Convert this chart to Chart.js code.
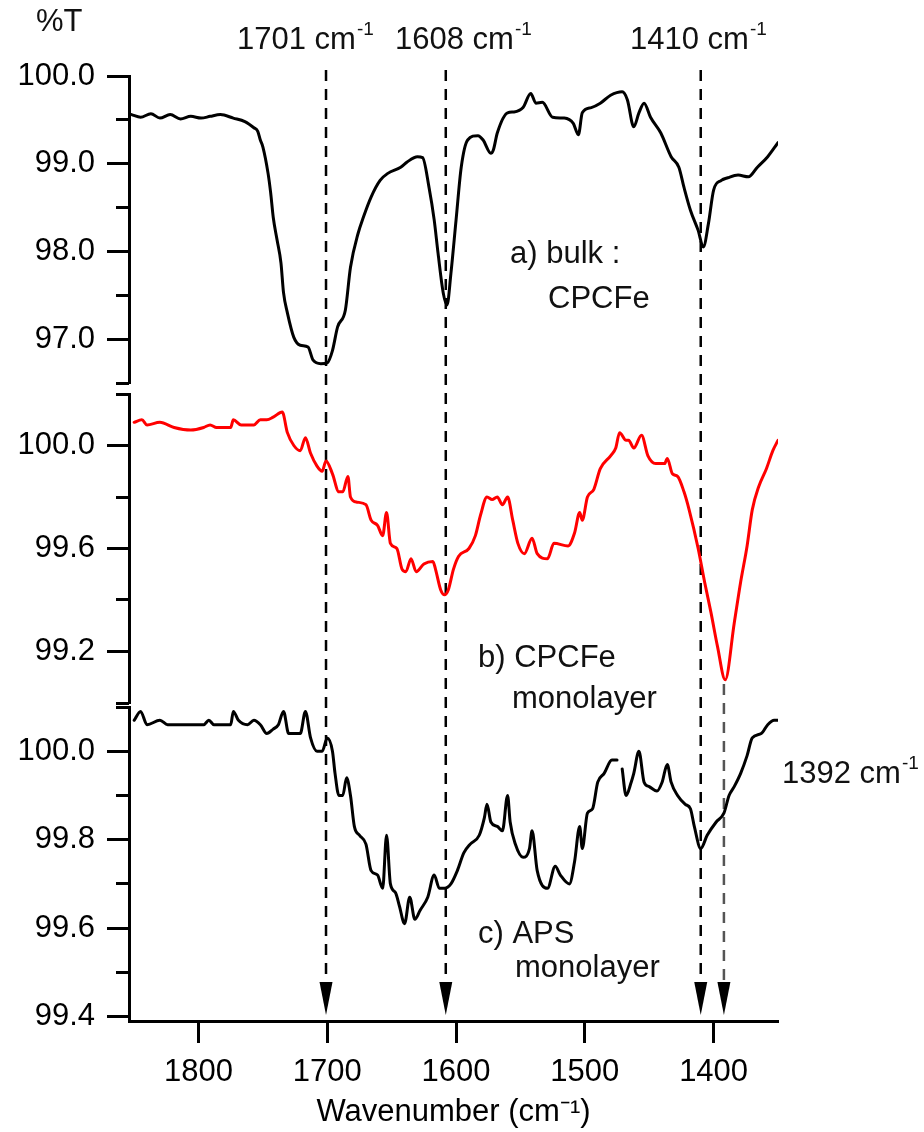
<!DOCTYPE html>
<html>
<head>
<meta charset="utf-8">
<title>FTIR spectra: CPCFe bulk, CPCFe monolayer, APS monolayer</title>
<script src="https://cdn.jsdelivr.net/npm/chart.js@4.4.1/dist/chart.umd.min.js"></script>
<style>
  html, body { margin: 0; padding: 0; background: #fff; }
  #wrap { position: relative; width: 924px; height: 1132px; overflow: hidden; }
  #wrap canvas { position: absolute; left: 0; top: 0; }
</style>
</head>
<body>
<div id="wrap">
  <canvas id="bulk" width="924" height="1132"></canvas>
  <canvas id="cpcfe" width="924" height="1132"></canvas>
  <canvas id="aps" width="924" height="1132"></canvas>
</div>
<script>
// shared wavenumber axis (cm-1), drawn high -> low
const X_MIN = 1350;
const X_MAX = 1854;
const X_TICKS = [1800, 1700, 1600, 1500, 1400];

// marked bands
const PEAKS = [1701, 1608, 1410];
const PEAK_MONO = 1392;

// a) bulk CPCFe
const WN_BULK = [1852, 1845, 1837, 1830, 1822, 1814, 1806, 1798, 1791, 1783,
  1773, 1764, 1757, 1754, 1752, 1750, 1746, 1744, 1742, 1739,
  1736, 1734, 1731, 1726, 1721, 1715, 1711, 1705, 1700, 1696,
  1692, 1686, 1682, 1676, 1672, 1666, 1659, 1653, 1643, 1638,
  1630, 1626, 1621, 1617, 1614, 1610, 1607, 1604, 1600, 1596,
  1591, 1583, 1579, 1573, 1571, 1568, 1560, 1555, 1548, 1542,
  1538, 1533, 1525, 1516, 1509, 1505, 1502, 1495, 1488, 1480,
  1471, 1467, 1462, 1458, 1454, 1449, 1441, 1433, 1427, 1423,
  1418, 1412, 1408, 1404, 1400, 1394, 1389, 1381, 1373, 1366,
  1358, 1350];
const T_BULK = [99.56, 99.53, 99.57, 99.52, 99.56, 99.51, 99.54, 99.52, 99.54, 99.56,
  99.52, 99.48, 99.41, 99.37, 99.27, 99.19, 98.89, 98.67, 98.39, 98.13,
  97.87, 97.53, 97.30, 97.02, 96.93, 96.91, 96.76, 96.72, 96.73, 96.87,
  97.14, 97.33, 97.82, 98.21, 98.39, 98.62, 98.81, 98.89, 98.96, 99.02,
  99.08, 99.07, 98.73, 98.36, 97.98, 97.53, 97.39, 97.75, 98.36, 98.96,
  99.27, 99.32, 99.27, 99.12, 99.16, 99.35, 99.58, 99.59, 99.64, 99.80,
  99.69, 99.70, 99.53, 99.52, 99.46, 99.33, 99.58, 99.64, 99.69, 99.78,
  99.82, 99.73, 99.42, 99.58, 99.69, 99.53, 99.35, 99.08, 98.96, 98.73,
  98.47, 98.24, 98.05, 98.32, 98.70, 98.81, 98.84, 98.87, 98.85, 98.96,
  99.08, 99.24];

// b) CPCFe monolayer
const WN_CPCFE = [1850, 1844, 1840, 1830, 1819, 1806, 1796, 1791, 1786, 1775,
  1773, 1767, 1757, 1752, 1747, 1742, 1735, 1731, 1726, 1721,
  1717, 1713, 1708, 1704, 1701, 1696, 1691, 1688, 1684, 1682,
  1677, 1670, 1666, 1661, 1657, 1654, 1651, 1646, 1642, 1639,
  1635, 1631, 1625, 1618, 1616, 1612, 1609, 1606, 1602, 1598,
  1590, 1585, 1581, 1576, 1572, 1568, 1564, 1560, 1556, 1552,
  1547, 1541, 1537, 1529, 1524, 1513, 1508, 1504, 1502, 1498,
  1493, 1488, 1480, 1476, 1473, 1468, 1466, 1462, 1456, 1451,
  1445, 1438, 1436, 1432, 1428, 1423, 1419, 1412, 1407, 1402,
  1397, 1391, 1384, 1379, 1374, 1370, 1365, 1359, 1354, 1350];
const T_CPCFE = [100.09, 100.10, 100.08, 100.09, 100.07, 100.06, 100.07, 100.08, 100.07, 100.07,
  100.10, 100.08, 100.08, 100.10, 100.10, 100.11, 100.13, 100.05, 100.00, 99.98,
  100.03, 99.97, 99.92, 99.90, 99.94, 99.89, 99.82, 99.82, 99.88, 99.80,
  99.78, 99.77, 99.71, 99.69, 99.65, 99.74, 99.62, 99.60, 99.52, 99.51,
  99.56, 99.51, 99.54, 99.55, 99.52, 99.44, 99.42, 99.44, 99.52, 99.57,
  99.60, 99.65, 99.73, 99.80, 99.79, 99.80, 99.77, 99.80, 99.71, 99.62,
  99.58, 99.64, 99.58, 99.56, 99.62, 99.61, 99.66, 99.74, 99.71, 99.80,
  99.83, 99.91, 99.96, 99.99, 100.05, 100.02, 100.02, 99.99, 100.04, 99.96,
  99.93, 99.93, 99.95, 99.89, 99.88, 99.82, 99.75, 99.60, 99.47, 99.35,
  99.22, 99.09, 99.31, 99.47, 99.61, 99.75, 99.84, 99.91, 99.98, 100.02];

// c) APS monolayer (null = break in the recorded trace)
const WN_APS = [1850, 1845, 1840, 1830, 1824, 1814, 1804, 1796, 1792, 1788,
  1775, 1773, 1769, 1762, 1757, 1752, 1747, 1742, 1738, 1734,
  1730, 1725, 1721, 1717, 1713, 1708, 1704, 1700, 1696, 1694,
  1691, 1688, 1685, 1682, 1679, 1675, 1670, 1666, 1661, 1657,
  1654, 1651, 1647, 1644, 1640, 1636, 1632, 1628, 1622, 1617,
  1613, 1609, 1604, 1599, 1594, 1589, 1582, 1578, 1576, 1573,
  1568, 1564, 1560, 1558, 1554, 1548, 1543, 1541, 1537, 1529,
  1523, 1519, 1512, 1508, 1504, 1502, 1498, 1494, 1490, 1485,
  1479, 1475, 1473.5, 1471, 1468, 1464, 1462, 1458, 1454, 1450,
  1444, 1440, 1436, 1433, 1428, 1422, 1418, 1415, 1410, 1405,
  1398, 1392, 1388, 1384, 1379, 1374, 1370, 1363, 1358, 1353, 1350];
const T_APS = [100.07, 100.09, 100.06, 100.07, 100.06, 100.06, 100.06, 100.06, 100.07, 100.06,
  100.06, 100.09, 100.07, 100.06, 100.07, 100.06, 100.04, 100.05, 100.06, 100.09,
  100.04, 100.04, 100.04, 100.09, 100.03, 100.00, 100.00, 100.03, 100.00, 99.95,
  99.90, 99.90, 99.94, 99.90, 99.83, 99.81, 99.79, 99.73, 99.72, 99.69,
  99.81, 99.70, 99.68, 99.65, 99.61, 99.67, 99.62, 99.64, 99.67, 99.72,
  99.69, 99.69, 99.70, 99.73, 99.77, 99.79, 99.81, 99.85, 99.88, 99.84,
  99.83, 99.82, 99.90, 99.84, 99.79, 99.76, 99.78, 99.82, 99.73, 99.69,
  99.74, 99.72, 99.70, 99.75, 99.83, 99.78, 99.86, 99.87, 99.93, 99.95,
  99.98, 99.98, null, 99.96, 99.90, 99.93, 99.95, 100.00, 99.93, 99.92,
  99.91, 99.93, 99.97, 99.93, 99.90, 99.88, 99.87, 99.83, 99.78, 99.81,
  99.84, 99.86, 99.90, 99.92, 99.95, 99.99, 100.03, 100.04, 100.06, 100.07, 100.07];

// %T axes, one per panel
const RANGE_BULK = [96.5, 100.0];
const TICKS_BULK = [97.0, 98.0, 99.0, 100.0];
const MINOR_BULK = [96.5, 97.5, 98.5, 99.5];

const RANGE_CPCFE = [99.0, 100.2];
const TICKS_CPCFE = [99.2, 99.6, 100.0];
const MINOR_CPCFE = [99.0, 99.4, 99.8, 100.2];

const RANGE_APS = [99.39, 100.1];
const TICKS_APS = [99.4, 99.6, 99.8, 100.0];
const MINOR_APS = [99.5, 99.7, 99.9, 100.1];

Chart.defaults.font.family = '"Liberation Sans", Arial, Helvetica, sans-serif';
Chart.defaults.font.size = 31;
Chart.defaults.color = '#000';

const FONT = '31px "Liberation Sans", Arial, sans-serif';
const SUP_FONT = '19px "Liberation Sans", Arial, sans-serif';

const toPoints = (wn, t) => wn.map((x, i) => ({ x, y: t[i] }));

function yAxes(range, major, minor) {
  return {
    y: {
      position: 'left',
      min: range[0],
      max: range[1],
      afterFit: s => { s.width = 129; },
      afterBuildTicks: s => { s.ticks = major.map(v => ({ value: v })); },
      border: { width: 3, color: '#000' },
      grid: { drawOnChartArea: false, tickLength: 22, tickWidth: 3, tickColor: '#000' },
      ticks: { padding: 12, callback: v => v.toFixed(1) }
    },
    yMinor: {
      axis: 'y',
      position: { x: X_MAX },
      min: range[0],
      max: range[1],
      afterBuildTicks: s => { s.ticks = minor.map(v => ({ value: v })); },
      border: { display: false },
      grid: { drawOnChartArea: false, tickLength: 13, tickWidth: 3, tickColor: '#000' },
      ticks: { display: false }
    }
  };
}

function dashed(ctx, x, y0, y1, color) {
  ctx.strokeStyle = color;
  ctx.beginPath();
  ctx.moveTo(x, y0);
  ctx.lineTo(x, y1);
  ctx.stroke();
}

function arrowHead(ctx, x, top, tip) {
  ctx.beginPath();
  ctx.moveTo(x - 6.5, top);
  ctx.lineTo(x + 6.5, top);
  ctx.lineTo(x, tip);
  ctx.closePath();
  ctx.fill();
}

function withSup(ctx, text, sup, x, y) {
  ctx.font = FONT;
  ctx.fillText(text, x, y);
  const w = ctx.measureText(text).width;
  ctx.font = SUP_FONT;
  ctx.fillText(sup, x + w + 1, y - 14);
}

// dashed band markers with arrowheads on the wavenumber axis
const markers = {
  id: 'markers',
  beforeDatasetsDraw(chart) {
    const { ctx, scales: { x } } = chart;
    ctx.save();
    ctx.lineWidth = 2.5;
    ctx.setLineDash([11, 8]);
    PEAKS.forEach(wn => dashed(ctx, x.getPixelForValue(wn), 70, 986, '#000'));
    dashed(ctx, x.getPixelForValue(PEAK_MONO), 684, 986, '#555');
    ctx.setLineDash([]);
    ctx.fillStyle = '#000';
    [...PEAKS, PEAK_MONO].forEach(wn => arrowHead(ctx, x.getPixelForValue(wn), 982, 1015));
    ctx.restore();
  }
};

// axis unit, band labels and panel captions
const captions = {
  id: 'captions',
  afterDraw(chart) {
    const { ctx } = chart;
    ctx.save();
    ctx.fillStyle = '#111';
    ctx.textAlign = 'left';
    ctx.textBaseline = 'alphabetic';
    ctx.font = FONT;
    ctx.fillText('%T', 36, 31);
    withSup(ctx, `${PEAKS[0]} cm`, '-1', 237, 49);
    withSup(ctx, `${PEAKS[1]} cm`, '-1', 395, 49);
    withSup(ctx, `${PEAKS[2]} cm`, '-1', 630, 49);
    withSup(ctx, `${PEAK_MONO} cm`, '-1', 782, 783);
    ctx.font = FONT;
    ctx.fillText('a) bulk :', 510, 263);
    ctx.fillText('CPCFe', 548, 308);
    ctx.fillText('b) CPCFe', 478, 667);
    ctx.fillText('monolayer', 512, 708);
    ctx.fillText('c) APS', 478, 943);
    ctx.fillText('monolayer', 515, 977);
    ctx.restore();
  }
};

function panel(id, points, color, range, major, minor, padTop, padBottom, showX, plugins) {
  const xAxis = showX ? {
    type: 'linear',
    min: X_MIN,
    max: X_MAX,
    reverse: true,
    afterFit: s => { s.height = 111; },
    afterBuildTicks: s => { s.ticks = X_TICKS.map(v => ({ value: v })); },
    border: { width: 3, color: '#000' },
    grid: { drawOnChartArea: false, tickLength: 22, tickWidth: 3, tickColor: '#000' },
    ticks: { padding: 11, maxRotation: 0, autoSkip: false, callback: v => String(v) },
    title: { display: true, text: 'Wavenumber (cm⁻¹)', padding: { top: 0, bottom: 1 } }
  } : { type: 'linear', min: X_MIN, max: X_MAX, reverse: true, display: false };

  return new Chart(document.getElementById(id), {
    type: 'line',
    data: {
      datasets: [{
        data: points,
        borderColor: color,
        borderWidth: 3,
        borderJoinStyle: 'round',
        borderCapStyle: 'round',
        pointRadius: 0,
        cubicInterpolationMode: 'monotone',
        spanGaps: false,
        fill: false
      }]
    },
    options: {
      responsive: false,
      animation: false,
      events: [],
      layout: { padding: { top: padTop, bottom: padBottom, left: 0, right: 146 } },
      plugins: { legend: { display: false }, tooltip: { enabled: false } },
      scales: Object.assign({ x: xAxis }, yAxes(range, major, minor))
    },
    plugins
  });
}

panel('bulk', toPoints(WN_BULK, T_BULK), '#000', RANGE_BULK, TICKS_BULK, MINOR_BULK, 76, 749, false, [markers, captions]);
panel('cpcfe', toPoints(WN_CPCFE, T_CPCFE), '#f00', RANGE_CPCFE, TICKS_CPCFE, MINOR_CPCFE, 394, 429, false, []);
panel('aps', toPoints(WN_APS, T_APS), '#000', RANGE_APS, TICKS_APS, MINOR_APS, 707, 0, true, []);
</script>
</body>
</html>
